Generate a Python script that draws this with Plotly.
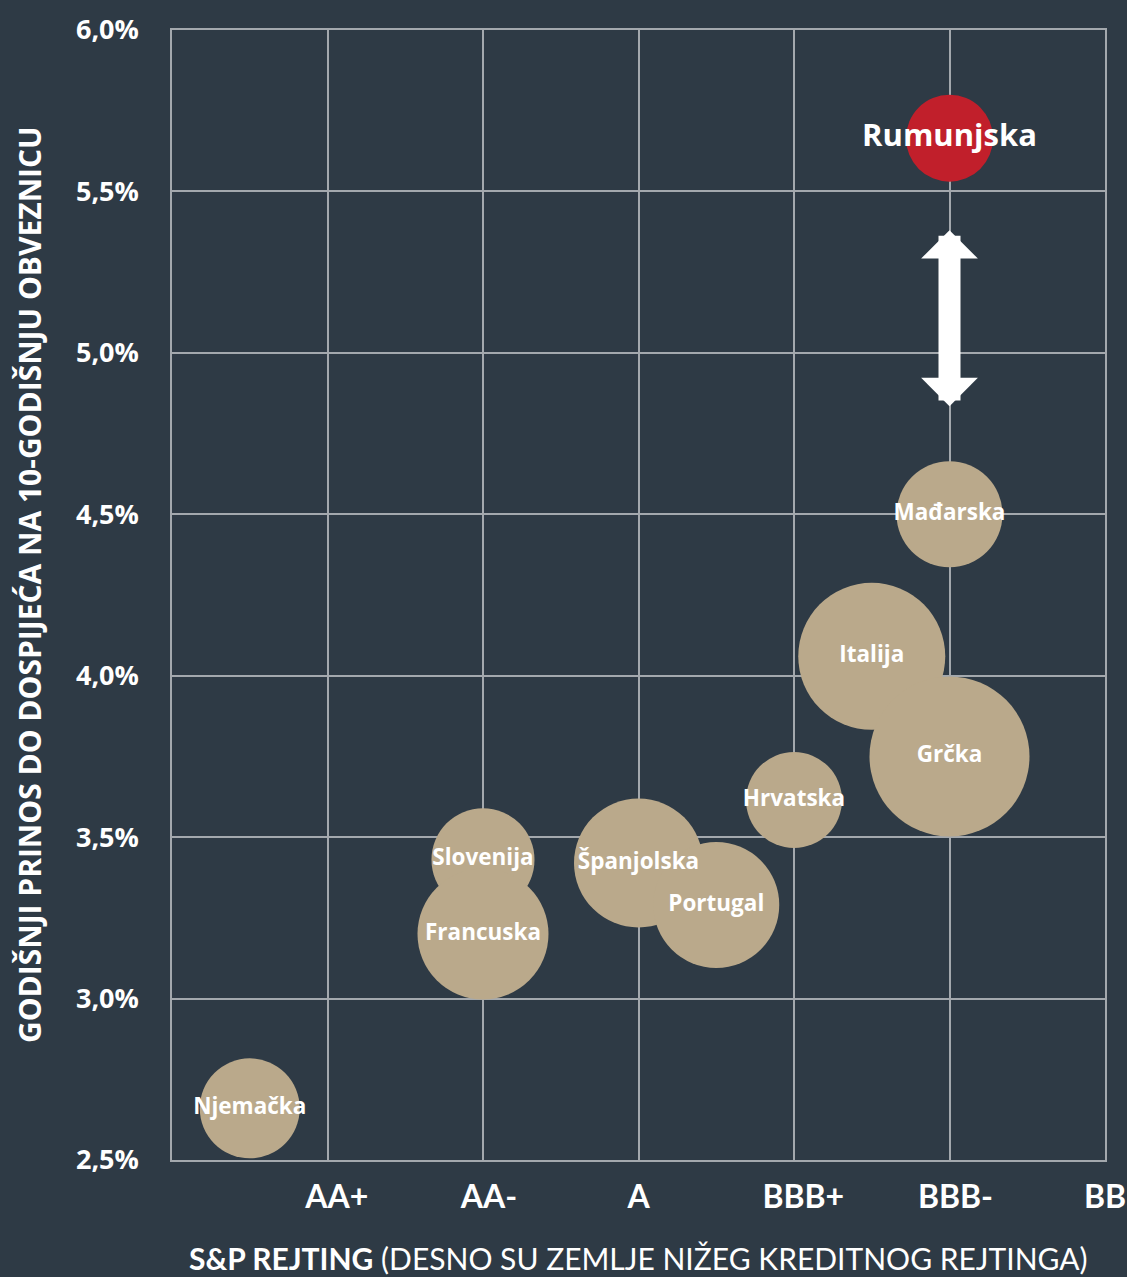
import plotly.graph_objects as go

# ---- data ----
countries = ["Njemačka", "Slovenija", "Francuska", "Španjolska", "Portugal",
             "Hrvatska", "Italija", "Grčka", "Mađarska", "Rumunjska"]
rating_pos = [0.5, 2, 2, 3, 3.5, 4, 4.5, 5, 5, 5]
yield_pct = [2.66, 3.43, 3.20, 3.42, 3.29, 3.615, 4.06, 3.75, 4.50, 5.665]
bubble_size = [100, 103, 131, 129, 126, 96, 147, 160, 106, 87]
rating_ticks = [1, 2, 3, 4, 5, 6]
rating_labels = ["AA+", "AA-", "A", "BBB+", "BBB-", "BB"]
yield_ticks = [2.5, 3.0, 3.5, 4.0, 4.5, 5.0, 5.5, 6.0]
yield_labels = ["2,5%", "3,0%", "3,5%", "4,0%", "4,5%", "5,0%", "5,5%", "6,0%"]
highlight = "Rumunjska"
arrow_from = 4.83
arrow_to = 5.38

BG = "#2e3a45"
GRID = "#a3a8ad"
TAN = "#baa98b"
RED = "#c11f2b"

colors = [RED if c == highlight else TAN for c in countries]
text_sizes = [31 if c == highlight else 22.5 for c in countries]


def centred_label(lbl):
    # centre the rating letters on the tick; the +/- suffix hangs to the right
    if lbl[-1] in "+-":
        return "<span style='color:rgba(0,0,0,0)'>%s</span>%s" % (lbl[-1], lbl)
    return lbl


fig = go.Figure()
fig.add_trace(go.Scatter(
    x=rating_pos, y=yield_pct, mode="markers+text",
    text=countries, textposition="middle center",
    textfont=dict(family="Open Sans", size=text_sizes, color="white", weight="bold"),
    marker=dict(size=bubble_size, sizemode="diameter", sizeref=1,
                color=colors, opacity=1, line=dict(width=0)),
    hoverinfo="skip", showlegend=False, cliponaxis=False,
))

hx = rating_pos[countries.index(highlight)]
fig.add_annotation(
    x=hx, y=arrow_to, ax=hx, ay=arrow_from, axref="x", ayref="y",
    xref="x", yref="y", text="", showarrow=True,
    arrowside="end+start", arrowhead=1, arrowsize=0.43, arrowwidth=22,
    arrowcolor="white", standoff=0, startstandoff=0,
)

fig.add_annotation(
    xref="paper", yref="paper", x=-0.152, y=0.509,
    text="GODIŠNJI PRINOS DO DOSPIJEĆA NA 10-GODIŠNJU OBVEZNICU",
    textangle=-90, showarrow=False, xanchor="center", yanchor="middle",
    font=dict(family="Open Sans", size=30, color="white", weight="bold"),
)
fig.add_annotation(
    xref="paper", yref="paper", x=0.5, y=-0.087,
    text="<b>S&P REJTING</b> (DESNO SU ZEMLJE NIŽEG KREDITNOG REJTINGA)",
    showarrow=False, xanchor="center", yanchor="middle",
    font=dict(family="Lato", size=30, color="white"),
)

fig.update_xaxes(
    range=[0, 6], tickvals=rating_ticks,
    ticktext=[centred_label(l) for l in rating_labels],
    showgrid=True, gridcolor=GRID, gridwidth=1.5,
    showline=True, mirror=True, linecolor=GRID, linewidth=1.5,
    zeroline=False, ticks="outside", ticklen=8, tickcolor="rgba(0,0,0,0)",
    tickfont=dict(family="Lato", size=32, color="white", weight="bold"),
    fixedrange=True,
)
fig.update_yaxes(
    range=[2.5, 6.0], tickvals=yield_ticks, ticktext=yield_labels,
    showgrid=True, gridcolor=GRID, gridwidth=1.5,
    showline=True, mirror=True, linecolor=GRID, linewidth=1.5,
    zeroline=False, ticks="outside", ticklen=26, tickcolor="rgba(0,0,0,0)",
    tickfont=dict(family="Open Sans", size=27, color="white", weight="bold"),
    fixedrange=True,
)
fig.update_layout(
    width=1127, height=1277,
    margin=dict(l=172, r=22, t=30, b=117, autoexpand=False),
    paper_bgcolor=BG, plot_bgcolor=BG,
    showlegend=False,
)
fig.write_html("out.html", config={"displayModeBar": False},
               post_script="document.body.style.margin='0';document.body.style.background='%s';" % BG)
